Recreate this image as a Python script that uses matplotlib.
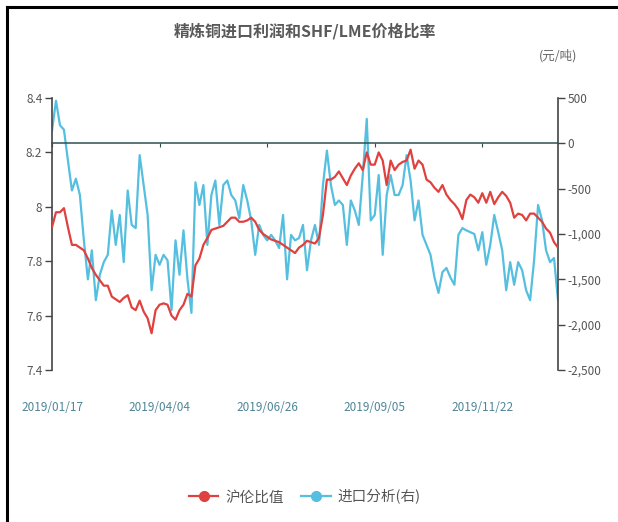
import numpy as np
import matplotlib
matplotlib.use("Agg")
import matplotlib.pyplot as plt
from matplotlib.lines import Line2D

plt.rcParams['font.family'] = ['Noto Sans CJK SC', 'DejaVu Sans']

title = "精炼铜进口利润和SHF/LME价格比率"
unit_label = "(元/吨)"
series_names = ["沪伦比值", "进口分析(右)"]
date_labels = ["2019/01/17", "2019/04/04", "2019/06/26", "2019/09/05", "2019/11/22"]
label_step = 27

ratio = [
    7.925, 7.98, 7.98, 7.995, 7.925, 7.86, 7.86, 7.85, 7.84, 7.81,
    7.775, 7.75, 7.73, 7.71, 7.71, 7.67, 7.66, 7.65, 7.665, 7.675,
    7.63, 7.62, 7.655, 7.615, 7.59, 7.535, 7.62, 7.64, 7.645, 7.64,
    7.60, 7.585, 7.62, 7.64, 7.68, 7.67, 7.785, 7.81, 7.86, 7.885,
    7.915, 7.92, 7.925, 7.93, 7.945, 7.96, 7.96, 7.945, 7.945, 7.95,
    7.96, 7.945, 7.915, 7.90, 7.89, 7.88, 7.875, 7.87, 7.86, 7.85,
    7.84, 7.83, 7.85, 7.86, 7.875, 7.87, 7.865, 7.885, 7.97, 8.10,
    8.10, 8.11, 8.13, 8.105, 8.08, 8.115, 8.14, 8.16, 8.135, 8.20,
    8.155, 8.155, 8.20, 8.17, 8.08, 8.17, 8.135, 8.155, 8.165, 8.17,
    8.21, 8.14, 8.17, 8.155, 8.10, 8.09, 8.07, 8.055, 8.08, 8.045,
    8.025, 8.01, 7.99, 7.955, 8.025, 8.045, 8.035, 8.015, 8.05, 8.015,
    8.055, 8.01, 8.035, 8.055, 8.04, 8.015, 7.96, 7.975, 7.97, 7.95,
    7.975, 7.975, 7.96, 7.945, 7.92, 7.905, 7.87, 7.85,
]

profit = [
    140, 470, 200, 150, -190, -520, -390, -570, -1070, -1500,
    -1180, -1730, -1450, -1310, -1230, -740, -1120, -790, -1310, -520,
    -900, -935, -130, -460, -790, -1620, -1230, -1340, -1230, -1290,
    -1840, -1070, -1450, -960, -1500, -1870, -430, -680, -460, -1120,
    -570, -410, -900, -460, -410, -570, -630, -825, -460, -630,
    -850, -1230, -900, -1010, -1070, -1010, -1070, -1155, -790, -1500,
    -1010, -1070, -1045, -900, -1400, -1070, -900, -1120, -460, -80,
    -460, -680, -630, -680, -1120, -630, -740, -900, -350, 270,
    -850, -790, -350, -1230, -570, -350, -570, -570, -460, -130,
    -410, -850, -630, -1010, -1120, -1230, -1480, -1650, -1420, -1375,
    -1480, -1560, -1010, -935, -960, -980, -1000, -1180, -980, -1340,
    -1120, -790, -980, -1180, -1620, -1310, -1560, -1310, -1400, -1620,
    -1730, -1290, -680, -850, -1180, -1310, -1265, -1730,
]

left_ticks = [7.4, 7.6, 7.8, 8.0, 8.2, 8.4]
left_tick_labels = ["7.4", "7.6", "7.8", "8", "8.2", "8.4"]
right_ticks = [-2500, -2000, -1500, -1000, -500, 0, 500]
right_tick_labels = ["-2,500", "-2,000", "-1,500", "-1,000", "-500", "0", "500"]

red = "#e0413f"
blue = "#55bfdf"
axis_col = "#444444"
text_col = "#555555"

fig = plt.figure(figsize=(6.18, 5.22), dpi=100)
fig.patch.set_facecolor("white")

ax = fig.add_axes([52 / 618, 1 - 370 / 522, (558 - 52) / 618, (370 - 98) / 522])
ax2 = ax.twinx()

x = np.arange(len(ratio))
ax2.plot(x, profit, color=blue, lw=1.6, zorder=2)
ax.plot(x, ratio, color=red, lw=1.6, zorder=3)
ax.set_zorder(ax2.get_zorder() + 1)
ax.patch.set_visible(False)

ax.set_xlim(0, len(ratio) - 1)
ax.set_ylim(7.4, 8.4)
ax2.set_ylim(-2500, 500)

ax.set_yticks(left_ticks)
ax.set_yticklabels(left_tick_labels)
ax2.set_yticks(right_ticks)
ax2.set_yticklabels(right_tick_labels)

label_pos = [i * label_step for i in range(len(date_labels))]
ax.set_xticks(label_pos)
ax.set_xticklabels(date_labels)
ax.tick_params(axis='x', length=0, pad=22, labelsize=8.5, labelcolor="#4f8597")
ax.tick_params(axis='y', length=5, width=1, color=axis_col, labelsize=8.5,
               labelcolor=text_col, pad=2)
ax2.tick_params(axis='y', length=5, width=1, color=axis_col, labelsize=8.5,
                labelcolor=text_col, pad=2)

for s in ['top', 'bottom', 'right']:
    ax.spines[s].set_visible(False)
ax.spines['left'].set_color(axis_col)
ax.spines['left'].set_linewidth(1.2)

ax2.xaxis.set_visible(True)
ax2.spines['top'].set_visible(False)
ax2.spines['left'].set_visible(False)
ax2.spines['right'].set_color(axis_col)
ax2.spines['right'].set_linewidth(1.2)
ax2.spines['bottom'].set_position(('data', 0))
ax2.spines['bottom'].set_color("#2f4f4f")
ax2.spines['bottom'].set_linewidth(1.1)
ax2.set_xticks(label_pos)
ax2.tick_params(axis='x', length=3, direction='out', color="#2f4f4f",
                labelbottom=False)

fig.text(305 / 618, 1 - 31 / 522, title, ha='center', va='center',
         fontsize=11.5, fontweight='bold', color="#595959")
fig.text(558 / 618, 1 - 56 / 522, unit_label, ha='center', va='center',
         fontsize=9, color="#666666")

handles = [
    Line2D([0], [0], color=red, lw=1.6, marker='o', markersize=7,
           markerfacecolor=red, markeredgecolor=red),
    Line2D([0], [0], color=blue, lw=1.6, marker='o', markersize=7,
           markerfacecolor=blue, markeredgecolor=blue),
]
fig.legend(handles, series_names, loc='center', bbox_to_anchor=(305 / 618, 1 - 497 / 522),
           ncol=2, frameon=False, fontsize=10.5, labelcolor="#555555",
           handlelength=2.0, handletextpad=0.5, columnspacing=1.2)

# outer frame (top and left edges)
fig.add_artist(Line2D([7 / 618, 1.0], [1 - 7 / 522, 1 - 7 / 522],
                      transform=fig.transFigure, color="black", lw=2.2))
fig.add_artist(Line2D([7 / 618, 7 / 618], [0.0, 1 - 7 / 522],
                      transform=fig.transFigure, color="black", lw=2.2))

fig.savefig("out.png", dpi=100, facecolor="white")
